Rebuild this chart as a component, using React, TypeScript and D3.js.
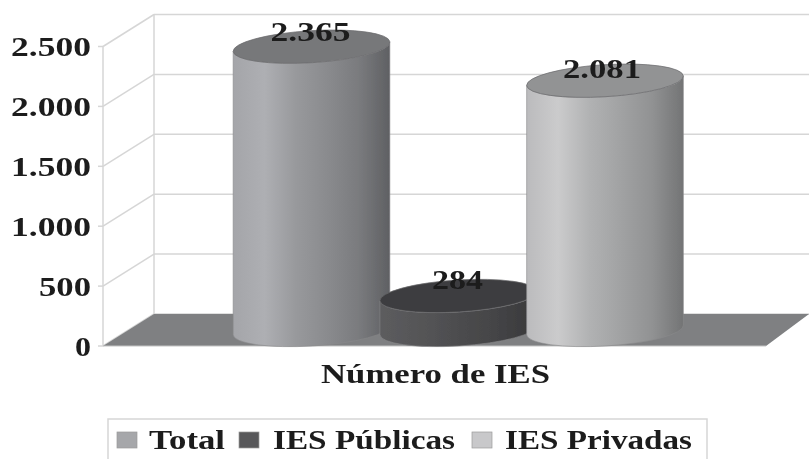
import React from 'react'
import * as d3 from 'd3'

const seriesNames = ['Total', 'IES Públicas', 'IES Privadas']
const seriesValues = [2365, 284, 2081]
const valueLabels = ['2.365', '284', '2.081']
const yTicks = [0, 500, 1000, 1500, 2000, 2500]
const categoryLabel = 'Número de IES'

const sideColors = [
  ['#a4a5a9', '#aeafb3', '#98999c', '#8a8b8e', '#7a7b7e', '#5f6063'],
  ['#5c5c5e', '#575759', '#505052', '#49494b', '#424244', '#38383a'],
  ['#bbbbbd', '#cbcbcc', '#b1b2b3', '#a1a2a3', '#919293', '#737475'],
]
const topColors = ['#77787a', '#3e3e40', '#929394']
const legendColors = ['#a6a7aa', '#58585a', '#c8c8ca']

const fmt = d3.formatLocale({ decimal: ',', thousands: '.', grouping: [3], currency: ['', ''] }).format(',d')
const serif = '"Liberation Serif", serif'
const gridColor = '#d6d6d6'

export default function App() {
  const width = 809
  const height = 459
  const front = { left: 103, right: 766 }
  const back = { left: 154, right: 809 }
  const depth = 32

  // y for the front edge of the box
  const y = d3.scaleLinear().domain([0, 2500]).range([346, 46.5])
  const x = d3.scalePoint<string>().domain(seriesNames).range([311.5, 605])
  const rx = 78.5
  const ry = 16
  const tilt = -3.5
  const dx = rx * Math.cos((tilt * Math.PI) / 180)
  const dy = rx * Math.sin((tilt * Math.PI) / 180)

  const cylinder = (i: number) => {
    const cx = x(seriesNames[i]) as number
    const base = y(0) - depth / 2
    const top = y(seriesValues[i]) - depth / 2
    const body =
      `M${cx - dx},${top - dy}L${cx - dx},${base - dy}` +
      `A${rx},${ry} ${tilt} 0 0 ${cx + dx},${base + dy}` +
      `L${cx + dx},${top + dy}` +
      `A${rx},${ry} ${tilt} 0 1 ${cx - dx},${top - dy}Z`
    return (
      <g key={seriesNames[i]}>
        <path d={body} fill={`url(#side${i})`} stroke="#8a8a8c" strokeWidth={0.6} />
        <ellipse cx={cx} cy={top} rx={rx} ry={ry} fill={topColors[i]} stroke="#6a6a6c" strokeWidth={0.7}
          transform={`rotate(${tilt} ${cx} ${top})`} />
      </g>
    )
  }

  const labelPos = [
    { w: 80, dx: -1, dy: -6 },
    { w: 51, dx: -0.75, dy: -7 },
    { w: 78, dx: -3, dy: -3 },
  ]
  const legendPos = [
    { sw: 117, tx: 149, tw: 76 },
    { sw: 239, tx: 273, tw: 182 },
    { sw: 472, tx: 505, tw: 187 },
  ]

  return (
    <svg width={width} height={height} style={{ position: 'absolute', left: 0, top: 0, background: '#fff' }} fontFamily={serif}>
      <defs>
        <filter id="soft" x="-5%" y="-5%" width="110%" height="110%">
          <feGaussianBlur stdDeviation={0.65} />
        </filter>
        {sideColors.map((stops, i) => (
          <linearGradient key={i} id={`side${i}`} x1="0" x2="1" y1="0" y2="0">
            {stops.map((c, j) => (
              <stop key={j} offset={j / (stops.length - 1)} stopColor={c} />
            ))}
          </linearGradient>
        ))}
      </defs>

      <g filter="url(#soft)">
        {/* walls */}
        <line x1={front.left} x2={front.left} y1={y(2500)} y2={y(0)} stroke={gridColor} strokeWidth={1.5} />
        <line x1={back.left} x2={back.left} y1={y(2500) - depth} y2={y(0) - depth} stroke={gridColor} strokeWidth={1.5} />
        {yTicks.map(t => (
          <g key={t} stroke={gridColor} strokeWidth={1.5}>
            <line x1={front.left - 5} x2={front.left} y1={y(t)} y2={y(t)} />
            <line x1={front.left} x2={back.left} y1={y(t)} y2={y(t) - depth} />
            <line x1={back.left} x2={back.right} y1={y(t) - depth} y2={y(t) - depth} />
          </g>
        ))}

        {/* floor */}
        <polygon
          points={[
            [front.left, y(0)],
            [back.left, y(0) - depth],
            [back.right, y(0) - depth],
            [front.right, y(0)],
          ].join(' ')}
          fill="#7f8082"
        />
        <line x1={front.left} x2={front.right} y1={y(0)} y2={y(0)} stroke="#c4c4c4" strokeWidth={1} />

        {[0, 1, 2].map(cylinder)}

        {/* axis labels */}
        {yTicks.map(t => {
          const label = fmt(t)
          return (
            <text key={t} x={91} y={y(t) + 9.5} textAnchor="end" fontSize={28} fontWeight="bold" fill="#1c1c1c"
              textLength={t === 0 ? 16 : label.length === 3 ? 52 : 80} lengthAdjust="spacingAndGlyphs">
              {label}
            </text>
          )
        })}

        {/* value labels */}
        {seriesNames.map((s, i) => (
          <text key={s} x={(x(s) as number) + labelPos[i].dx - labelPos[i].w / 2}
            y={y(seriesValues[i]) - depth / 2 + labelPos[i].dy}
            fontSize={27} fontWeight="bold" fill="#1c1c1c"
            textLength={labelPos[i].w} lengthAdjust="spacingAndGlyphs">
            {valueLabels[i]}
          </text>
        ))}

        <text x={321} y={383} fontSize={28} fontWeight="bold" fill="#1c1c1c" textLength={229} lengthAdjust="spacingAndGlyphs">
          {categoryLabel}
        </text>

        {/* legend */}
        <path d="M108,459V419H707V459" fill="#fff" stroke={gridColor} strokeWidth={1.5} />
        {seriesNames.map((s, i) => (
          <g key={s}>
            <rect x={legendPos[i].sw} y={432} width={20} height={16} fill={legendColors[i]} stroke="#9a9a9a" strokeWidth={0.7} />
            <text x={legendPos[i].tx} y={449} fontSize={27} fontWeight="bold" fill="#1c1c1c"
              textLength={legendPos[i].tw} lengthAdjust="spacingAndGlyphs">
              {s}
            </text>
          </g>
        ))}
      </g>
    </svg>
  )
}
